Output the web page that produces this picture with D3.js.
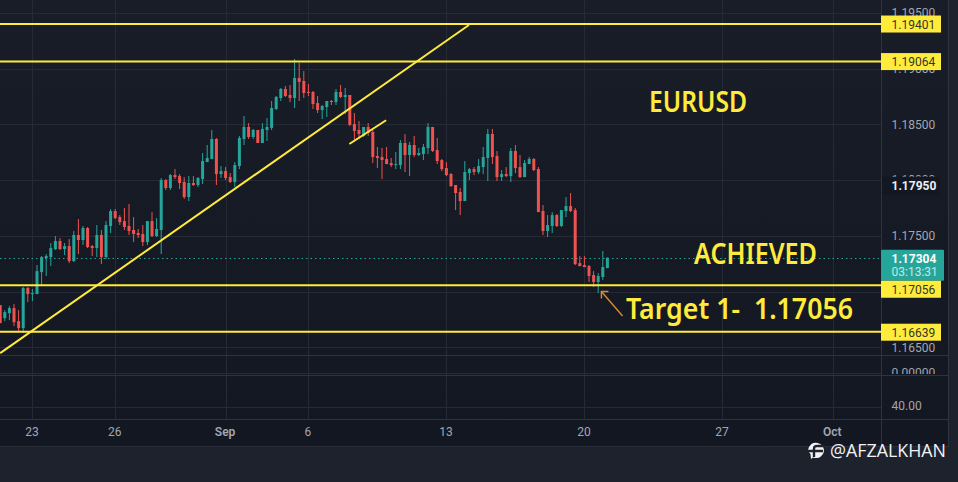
<!DOCTYPE html>
<html><head><meta charset="utf-8">
<script src="https://cdnjs.cloudflare.com/ajax/libs/d3/7.8.5/d3.min.js"></script>
<style>html,body{margin:0;padding:0;background:#1e222d;overflow:hidden}svg{display:block}</style>
</head><body><div id="chart"></div>
<script>
const opens=[1.16878,1.16761,1.16806,1.16851,1.16734,1.16671,1.17031,1.16977,1.16977,1.17174,
1.17300,1.17309,1.17381,1.17453,1.17381,1.17408,1.17273,1.17507,1.17462,1.17570,
1.17408,1.17390,1.17507,1.17309,1.17588,1.17722,1.17668,1.17632,1.17588,1.17552,
1.17525,1.17516,1.17444,1.17632,1.17498,1.17552,1.18000,1.17929,1.18045,1.18036,
1.17983,1.17848,1.17974,1.17956,1.18010,1.18162,1.18189,1.18369,1.18054,1.18081,
1.18027,1.17983,1.18126,1.18369,1.18477,1.18387,1.18450,1.18333,1.18450,1.18468,
1.18638,1.18737,1.18818,1.18764,1.18737,1.18917,1.18890,1.18791,1.18791,1.18692,
1.18629,1.18656,1.18710,1.18701,1.18791,1.18746,1.18764,1.18503,1.18450,1.18396,
1.18477,1.18432,1.18216,1.18207,1.18189,1.18153,1.18135,1.18135,1.18333,1.18225,
1.18315,1.18225,1.18234,1.18288,1.18477,1.18270,1.18180,1.18108,1.18054,1.17956,
1.17893,1.17812,1.18063,1.18099,1.18072,1.18117,1.18198,1.18414,1.18216,1.18027,
1.18054,1.18036,1.18261,1.18117,1.18027,1.18144,1.18189,1.18099,1.17722,1.17543,
1.17588,1.17686,1.17588,1.17722,1.17767,1.17731,1.17255,1.17237,1.17228,1.17148,
1.17085,1.17130,1.17210];
const highs=[1.16878,1.16833,1.16869,1.16887,1.16833,1.17040,1.17040,1.17022,1.17237,1.17318,
1.17336,1.17435,1.17498,1.17480,1.17435,1.17471,1.17543,1.17650,1.17588,1.17579,
1.17417,1.17597,1.17552,1.17632,1.17740,1.17740,1.17686,1.17749,1.17785,1.17668,
1.17561,1.17597,1.17632,1.17713,1.17659,1.18019,1.18010,1.18054,1.18099,1.18054,
1.18027,1.18036,1.18036,1.18027,1.18243,1.18315,1.18450,1.18378,1.18126,1.18117,
1.18063,1.18162,1.18396,1.18575,1.18512,1.18459,1.18450,1.18512,1.18557,1.18710,
1.18755,1.18827,1.18845,1.18854,1.19087,1.19051,1.18979,1.18863,1.18800,1.18755,
1.18674,1.18710,1.18719,1.18818,1.18854,1.18827,1.18764,1.18602,1.18530,1.18477,
1.18512,1.18450,1.18297,1.18288,1.18297,1.18198,1.18252,1.18360,1.18414,1.18342,
1.18396,1.18288,1.18324,1.18512,1.18477,1.18378,1.18189,1.18162,1.18063,1.17956,
1.17929,1.18171,1.18108,1.18117,1.18189,1.18297,1.18459,1.18459,1.18261,1.18090,
1.18117,1.18288,1.18315,1.18225,1.18180,1.18207,1.18198,1.18117,1.17776,1.17686,
1.17713,1.17695,1.17731,1.17848,1.17884,1.17749,1.17318,1.17318,1.17237,1.17183,
1.17165,1.17363,1.17304];
const lows=[1.16716,1.16734,1.16743,1.16689,1.16636,1.16627,1.16905,1.16914,1.16977,1.17049,
1.17139,1.17228,1.17372,1.17372,1.17327,1.17255,1.17264,1.17336,1.17417,1.17390,
1.17318,1.17309,1.17246,1.17291,1.17525,1.17650,1.17597,1.17552,1.17507,1.17444,
1.17480,1.17408,1.17417,1.17489,1.17489,1.17336,1.17911,1.17911,1.18010,1.17920,
1.17830,1.17812,1.17947,1.17938,1.17965,1.18162,1.18189,1.17956,1.18019,1.18000,
1.17974,1.17938,1.18099,1.18315,1.18369,1.18369,1.18333,1.18333,1.18351,1.18450,
1.18629,1.18710,1.18746,1.18701,1.18647,1.18710,1.18737,1.18755,1.18638,1.18602,
1.18548,1.18566,1.18674,1.18674,1.18737,1.18593,1.18486,1.18360,1.18369,1.18387,
1.18396,1.18153,1.18108,1.18010,1.18144,1.18117,1.18099,1.18099,1.18072,1.18036,
1.18207,1.18216,1.18180,1.18234,1.18252,1.18144,1.18081,1.18036,1.17938,1.17731,
1.17686,1.17812,1.18000,1.18045,1.18054,1.18054,1.17992,1.18144,1.17992,1.17992,
1.18027,1.17983,1.18063,1.18019,1.18027,1.18144,1.18081,1.17713,1.17507,1.17489,
1.17525,1.17579,1.17579,1.17668,1.17713,1.17237,1.17228,1.17219,1.17085,1.17040,
1.16986,1.17103,1.17210];
const closes=[1.16716,1.16815,1.16851,1.16725,1.16671,1.17031,1.16977,1.16986,1.17183,1.17309,
1.17318,1.17390,1.17453,1.17381,1.17408,1.17273,1.17507,1.17462,1.17570,1.17399,
1.17390,1.17507,1.17309,1.17597,1.17722,1.17659,1.17623,1.17579,1.17543,1.17516,
1.17507,1.17444,1.17632,1.17498,1.17561,1.18000,1.17929,1.18045,1.18027,1.17974,
1.17848,1.17974,1.17956,1.18019,1.18171,1.18198,1.18369,1.18054,1.18081,1.18019,
1.17983,1.18135,1.18378,1.18477,1.18387,1.18450,1.18333,1.18459,1.18477,1.18647,
1.18746,1.18818,1.18755,1.18737,1.18917,1.18881,1.18782,1.18782,1.18683,1.18629,
1.18665,1.18710,1.18701,1.18791,1.18746,1.18764,1.18495,1.18441,1.18414,1.18477,
1.18423,1.18207,1.18198,1.18180,1.18144,1.18135,1.18144,1.18333,1.18225,1.18315,
1.18225,1.18243,1.18297,1.18477,1.18261,1.18171,1.18099,1.18045,1.17947,1.17884,
1.17812,1.18072,1.18099,1.18072,1.18126,1.18207,1.18414,1.18207,1.18027,1.18054,
1.18036,1.18261,1.18108,1.18027,1.18153,1.18189,1.18090,1.17713,1.17543,1.17597,
1.17686,1.17588,1.17731,1.17767,1.17722,1.17246,1.17228,1.17219,1.17139,1.17085,
1.17139,1.17219,1.17304];

const timeTickIndex=[7,25,49,67,97,127,157,181];
const timeTickLabels=["23","26","Sep","6","13","20","27","Oct"];
const priceTicks=[1.195,1.19,1.185,1.18,1.175,1.165];
const gridPrices=[1.195,1.19,1.185,1.18,1.175,1.17,1.165];
const levels=[1.19401,1.19064,1.17056,1.16639];
const levelLabelY=[0,0,4,0.5];
const crossPrice=1.17950;
const lastPrice=1.17304;
const countdown="03:13:31";
const trendLines=[[[0,1.16447],[101.9,1.19392]],[[75.9,1.18324],[83.9,1.18537]]];
const arrowPoints=[[135.3,1.16780],[130.7,1.17000]];

const W=958,H=482,plotR=881.5,axisR=948,paneB=355,pane2B=375,pane3B=419,stripT=447;
const YEL="#ffeb3b",UP="#26a69a",DOWN="#ef5350",GRID="#262a35",SEP="#2f333e",TXT="#a3a6af";
const FONT="Roboto, 'Open Sans', sans-serif";

const x=d3.scaleLinear().domain([0,1]).range([0.2,4.8]);
const y=d3.scaleLinear().domain([1.195,1.165]).range([13,347.2]);
const yOsc1=d3.scaleLinear().domain([0,1]).range([372.5,360]);
const yOsc2=d3.scaleLinear().domain([40,60]).range([406.5,385]);

const svg=d3.select("#chart").append("svg").attr("width",W).attr("height",H);
const defs=svg.append("defs");
const g=defs.append("linearGradient").attr("id","bg").attr("x1",0).attr("x2",0).attr("y1",0).attr("y2",1);
g.append("stop").attr("offset","0%").attr("stop-color","#191d28");
g.append("stop").attr("offset","100%").attr("stop-color","#131722");
defs.append("clipPath").attr("id","plot").append("rect").attr("width",plotR).attr("height",paneB);
defs.append("clipPath").attr("id","osc1").append("rect").attr("x",plotR).attr("y",paneB).attr("width",70).attr("height",pane2B-paneB-1);

svg.append("rect").attr("width",W).attr("height",H).attr("fill","#1e222d");
svg.append("rect").attr("width",axisR).attr("height",stripT).attr("fill","url(#bg)");

// grid
const gridG=svg.append("g");
gridG.selectAll("line.h").data(gridPrices).join("line").attr("x1",0).attr("x2",plotR)
  .attr("y1",d=>Math.round(y(d))+.5).attr("y2",d=>Math.round(y(d))+.5).attr("stroke",GRID);
gridG.selectAll("line.v").data(timeTickIndex).join("line")
  .attr("x1",d=>Math.round(x(d))+.5).attr("x2",d=>Math.round(x(d))+.5).attr("y1",0).attr("y2",pane3B).attr("stroke",GRID);
gridG.append("line").attr("x1",0).attr("x2",plotR).attr("y1",Math.round(yOsc1(0))+.5).attr("y2",Math.round(yOsc1(0))+.5).attr("stroke",GRID);
gridG.append("line").attr("x1",0).attr("x2",plotR).attr("y1",Math.round(yOsc2(40))+.5).attr("y2",Math.round(yOsc2(40))+.5).attr("stroke",GRID);
// pane separators
[paneB,pane2B,pane3B].forEach(v=>svg.append("line").attr("x1",0).attr("x2",axisR).attr("y1",v+.5).attr("y2",v+.5).attr("stroke",SEP));
svg.append("line").attr("x1",plotR).attr("x2",plotR).attr("y1",0).attr("y2",stripT).attr("stroke",SEP);
svg.append("line").attr("x1",axisR+.5).attr("x2",axisR+.5).attr("y1",0).attr("y2",stripT).attr("stroke",SEP);
svg.append("line").attr("x1",0).attr("x2",axisR).attr("y1",stripT-.5).attr("y2",stripT-.5).attr("stroke","#2a2e39");

// last price dotted line
svg.append("line").attr("x1",0).attr("x2",plotR).attr("y1",Math.round(y(lastPrice))+.5).attr("y2",Math.round(y(lastPrice))+.5)
  .attr("stroke",UP).attr("stroke-dasharray","1.5 3");

// candles
const plot=svg.append("g").attr("clip-path","url(#plot)");
const idx=d3.range(opens.length);
const col=i=>closes[i]>=opens[i]?UP:DOWN;
plot.selectAll("line.w").data(idx).join("line")
  .attr("x1",i=>x(i)).attr("x2",i=>x(i)).attr("y1",i=>y(highs[i])).attr("y2",i=>y(lows[i])).attr("stroke",col).attr("stroke-width",1);
plot.selectAll("rect.b").data(idx).join("rect")
  .attr("x",i=>x(i)-1.5).attr("width",3)
  .attr("y",i=>y(Math.max(opens[i],closes[i])))
  .attr("height",i=>Math.max(1,Math.abs(y(opens[i])-y(closes[i]))))
  .attr("fill",col);

// drawings
plot.selectAll("line.lvl").data(levels).join("line").attr("x1",0).attr("x2",plotR)
  .attr("y1",d=>y(d)).attr("y2",d=>y(d)).attr("stroke",YEL).attr("stroke-width",2);
plot.selectAll("line.tr").data(trendLines).join("line")
  .attr("x1",d=>x(d[0][0])).attr("y1",d=>y(d[0][1])).attr("x2",d=>x(d[1][0])).attr("y2",d=>y(d[1][1]))
  .attr("stroke",YEL).attr("stroke-width",2);
// arrow
const ax0=x(arrowPoints[0][0]),ay0=y(arrowPoints[0][1]),ax1=x(arrowPoints[1][0]),ay1=y(arrowPoints[1][1]);
plot.append("path").attr("fill","none").attr("stroke","#d98a30").attr("stroke-width",1.4)
  .attr("d",`M${ax0},${ay0}L${ax1},${ay1}M${ax1+7},${ay1}L${ax1},${ay1}L${ax1},${ay1+7}`);

// annotation text
const note=(t,px,py,size,len)=>svg.append("text").text(t).attr("x",px).attr("y",py).attr("font-family","'Noto Sans', 'Open Sans', sans-serif")
  .attr("font-size",size).attr("fill",YEL).attr("font-weight",600).attr("textLength",len).attr("lengthAdjust","spacingAndGlyphs");
note("EURUSD",649,112,28,98);
note("ACHIEVED",694,264,28,123);
note("Target 1-  1.17056",626,319,28,227).attr("xml:space","preserve").style("white-space","pre");

// price axis
const priceAxis=d3.axisRight(y).tickValues(priceTicks).tickFormat(d3.format(".5f")).tickSize(0).tickPadding(0);
const pa=svg.append("g").attr("transform",`translate(${plotR+10},0)`).call(priceAxis);
pa.select(".domain").remove();
pa.selectAll("text").attr("font-family",FONT).attr("font-size",12).attr("fill",TXT);
// oscillator axis labels
const o1=svg.append("g").attr("clip-path","url(#osc1)");
o1.append("text").text("0.00000").attr("x",plotR+10).attr("y",yOsc1(0)+4).attr("font-family",FONT).attr("font-size",12).attr("fill",TXT);
svg.append("text").text("40.00").attr("x",plotR+10).attr("y",yOsc2(40)+3).attr("font-family",FONT).attr("font-size",12).attr("fill",TXT);

// crosshair price label
const cy=y(crossPrice);
svg.append("rect").attr("x",plotR+.5).attr("y",cy-9).attr("width",58).attr("height",18).attr("fill","#131722");
svg.append("text").text(d3.format(".5f")(crossPrice)).attr("x",plotR+10).attr("y",cy+4.5).attr("font-family",FONT).attr("font-size",12).attr("font-weight",700).attr("fill","#eceff4");

// last price label
const ly=y(lastPrice);
svg.append("rect").attr("x",plotR-.5).attr("y",ly-8).attr("width",63).attr("height",31).attr("rx",1).attr("fill",UP);
svg.append("text").text(d3.format(".5f")(lastPrice)).attr("x",plotR+10).attr("y",ly+5).attr("font-family",FONT).attr("font-size",12).attr("font-weight",700).attr("fill","#fff");
svg.append("text").text(countdown).attr("x",plotR+10).attr("y",ly+18.5).attr("font-family",FONT).attr("font-size",12).attr("fill","#c4e8e4");

// level labels
const ll=svg.selectAll("g.ll").data(levels).join("g").attr("transform",(d,i)=>`translate(${plotR-.5},${y(d)+levelLabelY[i]})`);
ll.append("rect").attr("y",-8.5).attr("width",60).attr("height",17).attr("fill",YEL);
ll.append("text").text(d=>d3.format(".5f")(d)).attr("x",10.5).attr("y",4.5).attr("font-family",FONT).attr("font-size",12).attr("fill","#33352a");

// time axis
const timeAxis=d3.axisBottom(x).tickValues(timeTickIndex).tickFormat((d,i)=>timeTickLabels[i]).tickSize(0).tickPadding(0);
const ta=svg.append("g").attr("transform",`translate(-1,${pane3B+8})`).call(timeAxis);
ta.select(".domain").remove();
ta.selectAll("text").attr("font-family",FONT).attr("font-size",12)
  .attr("fill",TXT).attr("font-weight",(d,i)=>/[a-z]/.test(timeTickLabels[i])?600:400);

// watermark
const wm=svg.append("g").attr("transform","translate(816,450)");
wm.append("path").attr("fill","#f2f3f5").attr("d","M-7,-3A8,8 0 0 1 8,0A8,8 0 0 1 -3,7.5L-5,9L-5.5,4A8,8 0 0 1 -8,0Z");
wm.append("path").attr("fill","none").attr("stroke","#1e222d").attr("stroke-width",2.4).attr("d","M9,-4H1Q-2,-4 -2,-1V7M-8,1H7");
svg.append("text").text("@AFZALKHAN").attr("x",830).attr("y",457).attr("font-family","'Open Sans', 'Noto Sans', sans-serif").attr("font-size",18).attr("fill","#f2f3f5").attr("textLength",116).attr("lengthAdjust","spacingAndGlyphs");
</script></body></html>
